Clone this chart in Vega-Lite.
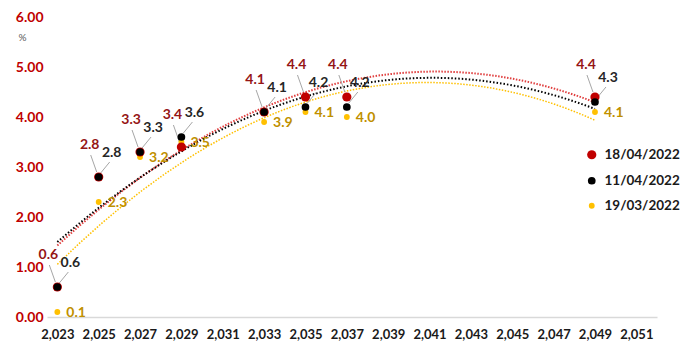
{
  "$schema": "https://vega.github.io/schema/vega-lite/v6.json",
  "autosize": {"type": "none"},
  "width": 610,
  "height": 300,
  "padding": {"left": 47, "top": 17, "right": 31, "bottom": 30},
  "background": "white",
  "config": {
    "view": {"stroke": null},
    "font": "Lato"
  },
  "data": {
    "values": [
      {"year": 2023, "value": 0.1, "series": "19/03/2022"},
      {"year": 2025, "value": 2.3, "series": "19/03/2022"},
      {"year": 2027, "value": 3.2, "series": "19/03/2022"},
      {"year": 2029, "value": 3.5, "series": "19/03/2022"},
      {"year": 2033, "value": 3.9, "series": "19/03/2022"},
      {"year": 2035, "value": 4.1, "series": "19/03/2022"},
      {"year": 2037, "value": 4.0, "series": "19/03/2022"},
      {"year": 2049, "value": 4.1, "series": "19/03/2022"},
      {"year": 2023, "value": 0.6, "series": "18/04/2022"},
      {"year": 2025, "value": 2.8, "series": "18/04/2022"},
      {"year": 2027, "value": 3.3, "series": "18/04/2022"},
      {"year": 2029, "value": 3.4, "series": "18/04/2022"},
      {"year": 2033, "value": 4.1, "series": "18/04/2022"},
      {"year": 2035, "value": 4.4, "series": "18/04/2022"},
      {"year": 2037, "value": 4.4, "series": "18/04/2022"},
      {"year": 2049, "value": 4.4, "series": "18/04/2022"},
      {"year": 2023, "value": 0.6, "series": "11/04/2022"},
      {"year": 2025, "value": 2.8, "series": "11/04/2022"},
      {"year": 2027, "value": 3.3, "series": "11/04/2022"},
      {"year": 2029, "value": 3.6, "series": "11/04/2022"},
      {"year": 2033, "value": 4.1, "series": "11/04/2022"},
      {"year": 2035, "value": 4.2, "series": "11/04/2022"},
      {"year": 2037, "value": 4.2, "series": "11/04/2022"},
      {"year": 2049, "value": 4.3, "series": "11/04/2022"}
    ]
  },
  "encoding": {
    "x": {
      "field": "year", "type": "quantitative",
      "scale": {"domain": [2022.5, 2052], "nice": false, "zero": false},
      "axis": {
        "title": null, "values": [2023,2025,2027,2029,2031,2033,2035,2037,2039,2041,2043,2045,2047,2049,2051],
        "format": ",d", "grid": false, "ticks": false, "tickSize": 0,
        "domainColor": "#D9D9D9", "domainWidth": 1.5,
        "labelFont": "Lato", "labelFontWeight": "bold", "labelFontSize": 13, "labelColor": "#1a1a1a",
        "labelPadding": 11, "labelFlush": false
      }
    },
    "y": {
      "field": "value", "type": "quantitative",
      "scale": {"domain": [0, 6], "nice": false},
      "axis": {
        "title": "%", "titleAngle": 0, "titleX": -25, "titleY": 20, "titleAlign": "center", "titleBaseline": "middle",
        "titleFontSize": 10, "titleFontWeight": "normal", "titleColor": "#595959", "titleFont": "Lato",
        "values": [0,1,2,3,4,5,6], "format": ".2f", "grid": false, "ticks": false, "tickSize": 0, "domain": false,
        "labelFont": "Lato", "labelFontWeight": "bold", "labelFontSize": 14, "labelColor": "#C00000", "labelPadding": 4
      }
    }
  },
  "layer": [
    {
      "transform": [
        {"filter": "datum.series === '19/03/2022'"},
        {"regression": "value", "on": "year", "method": "poly", "order": 2, "extent": [2023, 2049]}
      ],
      "mark": {"type": "line", "stroke": "#FFC000", "strokeWidth": 1.5, "strokeDash": [1.5, 1.5]}
    },
    {
      "transform": [
        {"filter": "datum.series === '18/04/2022'"},
        {"regression": "value", "on": "year", "method": "poly", "order": 2, "extent": [2023, 2049]}
      ],
      "mark": {"type": "line", "stroke": "#E04040", "strokeWidth": 2, "strokeDash": [1.5, 1.5]}
    },
    {
      "transform": [
        {"filter": "datum.series === '11/04/2022'"},
        {"regression": "value", "on": "year", "method": "poly", "order": 2, "extent": [2023, 2049]}
      ],
      "mark": {"type": "line", "stroke": "#000000", "strokeWidth": 2, "strokeDash": [1.5, 2]}
    },
    {
      "transform": [{"filter": "datum.series === '18/04/2022'"}],
      "mark": {"type": "rule", "stroke": "#A6A6A6", "strokeWidth": 1, "xOffset": -8, "yOffset": -22, "x2Offset": -2, "y2Offset": -5},
      "encoding": {"x2": {"field": "year"}, "y2": {"field": "value"}}
    },
    {
      "transform": [{"filter": "datum.series === '11/04/2022'"}],
      "mark": {"type": "rule", "stroke": "#A6A6A6", "strokeWidth": 1, "xOffset": 11, "yOffset": -15, "x2Offset": 2, "y2Offset": -4},
      "encoding": {"x2": {"field": "year"}, "y2": {"field": "value"}}
    },
    {
      "mark": {"type": "point", "filled": true, "opacity": 1},
      "encoding": {
        "color": {
          "field": "series", "type": "nominal",
          "scale": {"domain": ["18/04/2022", "11/04/2022", "19/03/2022"], "range": ["#C00000", "#000000", "#FFC000"]},
          "legend": {
            "title": null, "orient": "none", "legendX": 538, "legendY": 131,
            "labelFont": "Lato", "labelFontWeight": "bold", "labelFontSize": 13.5, "labelColor": "#1a1a1a",
            "labelOffset": 6, "rowPadding": 10, "symbolType": "circle", "symbolOpacity": 1
          }
        },
        "size": {
          "field": "series", "type": "nominal",
          "scale": {"domain": ["18/04/2022", "11/04/2022", "19/03/2022"], "range": [85, 34, 40]},
          "legend": {
            "title": null, "orient": "none", "legendX": 538, "legendY": 131,
            "labelFont": "Lato", "labelFontWeight": "bold", "labelFontSize": 13.5, "labelColor": "#1a1a1a",
            "labelOffset": 6, "rowPadding": 10, "symbolType": "circle", "symbolOpacity": 1
          }
        }
      }
    },
    {
      "transform": [{"filter": "datum.series === '18/04/2022'"}],
      "mark": {"type": "text", "color": "#951515", "font": "Lato", "fontWeight": "bold", "fontSize": 14, "dx": -9, "dy": -32, "baseline": "middle", "align": "center"},
      "encoding": {"text": {"field": "value", "format": ".1f"}}
    },
    {
      "transform": [{"filter": "datum.series === '11/04/2022'"}],
      "mark": {"type": "text", "color": "#262626", "font": "Lato", "fontWeight": "bold", "fontSize": 14, "dx": 13, "dy": -24, "baseline": "middle", "align": "center"},
      "encoding": {"text": {"field": "value", "format": ".1f"}}
    },
    {
      "transform": [{"filter": "datum.series === '19/03/2022'"}],
      "mark": {"type": "text", "color": "#BF9000", "font": "Lato", "fontWeight": "bold", "fontSize": 14, "dx": 9, "dy": 1, "baseline": "middle", "align": "left"},
      "encoding": {"text": {"field": "value", "format": ".1f"}}
    }
  ]
}
